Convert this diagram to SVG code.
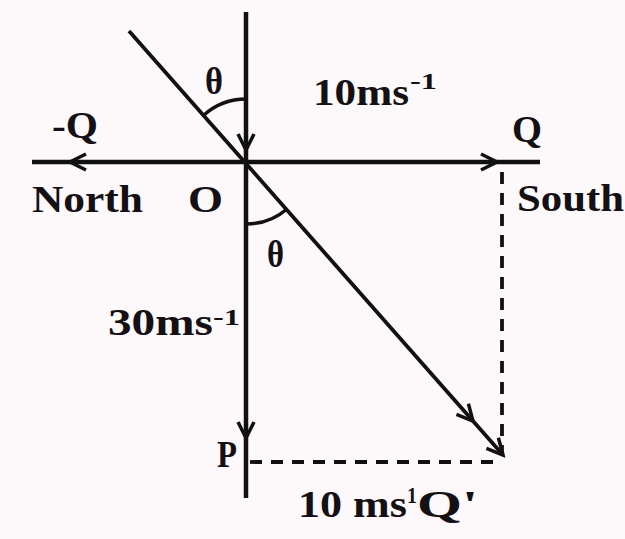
<svg xmlns="http://www.w3.org/2000/svg" width="625" height="539" viewBox="0 0 625 539">
<defs>
<style>
.t{font-family:"Liberation Serif","Times New Roman",serif;font-weight:bold;fill:#141014;font-size:37px}
.sup{font-family:"Liberation Serif","Times New Roman",serif;font-weight:bold;fill:#141014;font-size:23px}
.ln{stroke:#111;stroke-width:4.5;fill:none}
.dg{stroke:#111;stroke-width:3.8;fill:none}
.ds{stroke:#111;stroke-width:3.8;fill:none;stroke-dasharray:12 9}
.arc{stroke:#111;stroke-width:3.5;fill:none}
</style>
<marker id="ah" viewBox="-20 -11 23 22" markerWidth="23" markerHeight="22" refX="0" refY="0" markerUnits="userSpaceOnUse" orient="auto">
<path d="M-16,-8 L0,0 L-16,8" fill="none" stroke="#111" stroke-width="3.5"/>
</marker>
</defs>
<rect width="625" height="539" fill="#fdf9fb"/>
<g id="connectors">
<path class="ln" d="M246,162 L70,162 L32,162" marker-mid="url(#ah)"/>
<path class="ln" d="M246,162 L497,162 L540,162" marker-mid="url(#ah)"/>
<path class="ln" d="M246,12 L246,150 L246,438 L246,498" marker-mid="url(#ah)"/>
<path class="dg" d="M129,31 L473,421 L503,455" marker-mid="url(#ah)" marker-end="url(#ah)"/>
<path class="ds" d="M502,172 L502,455"/>
<path class="ds" d="M250,462 L502,462"/>
<path class="arc" d="M204,115 A63,63 0 0 1 246,99"/>
<path class="arc" d="M246,224 A62,62 0 0 0 287,209"/>
</g>
<g id="origin"><text class="t" x="188" y="212" textLength="35" lengthAdjust="spacingAndGlyphs">O</text></g>
<g id="north"><text class="t" x="32" y="212" textLength="111" lengthAdjust="spacingAndGlyphs">North</text></g>
<g id="minusQ"><text class="t" x="52" y="138" textLength="46" lengthAdjust="spacingAndGlyphs">-Q</text></g>
<g id="Q"><text class="t" x="512" y="142" textLength="30" lengthAdjust="spacingAndGlyphs">Q</text></g>
<g id="south"><text class="t" x="517" y="211" textLength="107" lengthAdjust="spacingAndGlyphs">South</text></g>
<g id="theta1"><text class="t" x="205" y="94" textLength="18" lengthAdjust="spacingAndGlyphs">θ</text></g>
<g id="theta2"><text class="t" x="267" y="267" textLength="17" lengthAdjust="spacingAndGlyphs">θ</text></g>
<g id="v10">
<text class="t" x="313" y="105" textLength="96" lengthAdjust="spacingAndGlyphs">10ms</text>
<text class="sup" x="410" y="89" textLength="27" lengthAdjust="spacingAndGlyphs">-1</text>
</g>
<g id="v30">
<text class="t" x="108" y="335" textLength="105" lengthAdjust="spacingAndGlyphs">30ms</text>
<text class="sup" x="213" y="325" textLength="27" lengthAdjust="spacingAndGlyphs">-1</text>
</g>
<g id="P"><text class="t" x="217" y="467" textLength="20" lengthAdjust="spacingAndGlyphs">P</text></g>
<g id="v10b">
<text class="t" x="298" y="517" textLength="109" lengthAdjust="spacingAndGlyphs">10 ms</text>
<text class="sup" x="407" y="503" textLength="10" lengthAdjust="spacingAndGlyphs">1</text>
<text class="t" x="417" y="517" textLength="61" lengthAdjust="spacingAndGlyphs">Q'</text>
</g>
</svg>
